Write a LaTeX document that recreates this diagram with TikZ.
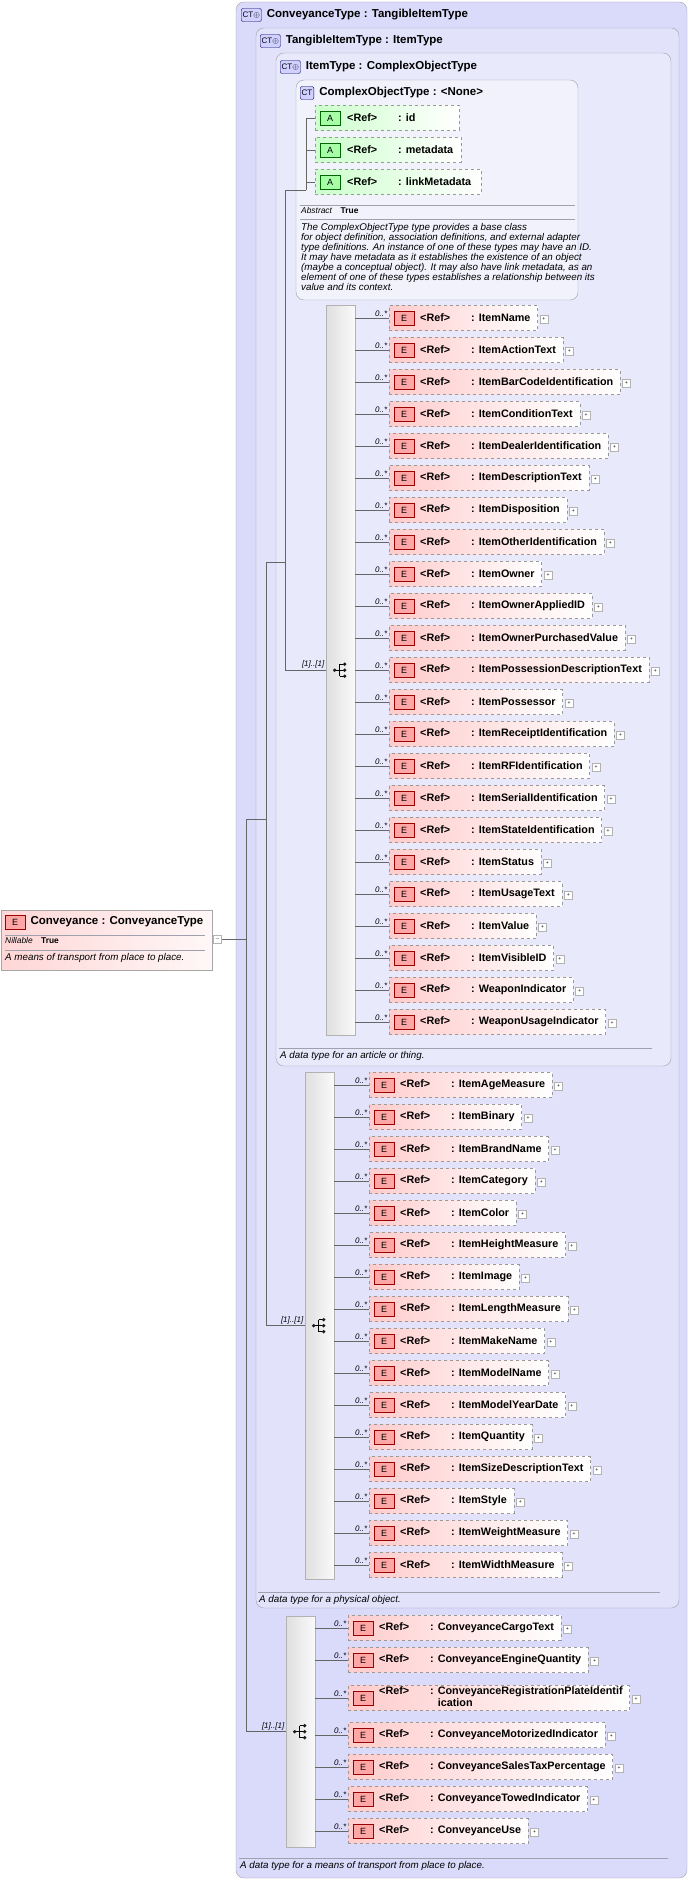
\documentclass[tikz,border=0pt]{standalone}
\usepackage{fontspec}
\setmainfont{Liberation Sans}
\usetikzlibrary{positioning}

\definecolor{boxone}{RGB}{218,218,250}
\definecolor{boxtwo}{RGB}{226,226,251}
\definecolor{boxthree}{RGB}{233,233,252}
\definecolor{boxfour}{RGB}{242,242,252}
\definecolor{frame}{RGB}{160,160,175}

\tikzset{
    ctbox/.style   = {draw = frame, rounded corners = 8pt},
    title/.style   = {anchor = west, font = \fontsize{11.5}{13}\selectfont\bfseries, inner sep = 0pt},
    cticon/.style  = {draw = blue!40!black, fill = blue!18, rounded corners = 2pt, anchor = west,
                      font = \fontsize{8}{9}\selectfont, inner sep = 1.5pt, minimum height = 13pt},
    elem/.style    = {draw = gray!80, dashed, left color = red!20, right color = white, anchor = west,
                      minimum height = 25pt, inner sep = 0pt, font = \fontsize{10.8}{12.5}\selectfont\bfseries},
    attr/.style    = {elem, left color = green!20},
    eicon/.style   = {draw = red!60!black, fill = red!35, anchor = west, minimum width = 20pt,
                      minimum height = 14pt, inner sep = 0pt, font = \fontsize{9}{10}\selectfont},
    aicon/.style   = {eicon, draw = green!40!black, fill = green!35},
    plusbox/.style = {draw = gray!60, fill = white, minimum size = 8pt, inner sep = 0pt, anchor = west},
    bar/.style     = {draw = gray!60, left color = gray!25, right color = gray!4, anchor = north west,
                      minimum width = 29pt, inner sep = 0pt},
    tree/.style    = {draw = gray!80!black, line width = 0.5pt},
    mult/.style    = {pos = 1, anchor = south east, inner sep = 1.5pt, font = \fontsize{8}{9}\selectfont\itshape},
    desc/.style    = {anchor = north west, align = left, inner sep = 0pt,
                      font = \fontsize{9.8}{10}\selectfont\itshape}
}

% element with icon and expander
\newcommand{\elembox}[4]{%
    \node [elem] (#1) at (#2, #3) {\hspace*{31pt}\makebox[51pt][l]{<Ref>}: #4\hspace*{7pt}};
    \node [eicon] at ([xshift = 5pt] #1.west) {E};
    \node [plusbox] at ([xshift = 2pt, yshift = -1pt] #1.east) {\tiny +};
}
% sequence symbol
\newcommand{\seqicon}[1]{%
    \begin{scope}[shift = {(#1.center)}]
        \draw [line width = 0.8pt] (-6, 0) -- (-1, 0) (-1, -6) -- (-1, 6)
            (-1, -6) -- (4, -6) (-1, 0) -- (4, 0) (-1, 6) -- (4, 6);
        \foreach \p in {(-6, 0), (4, -6), (4, 0), (4, 6)}
            \fill [gray!20!black] \p circle (1.8);
    \end{scope}
}

\begin{document}
\begin{tikzpicture}[x = 1pt, y = -1pt]

    \useasboundingbox (0, 0) rectangle (691, 1881);

    % nested type boxes
    \path [ctbox, fill = boxone]   (236, 2)  rectangle (687, 1878);
    \path [ctbox, fill = boxtwo]   (256, 28) rectangle (679, 1608);
    \path [ctbox, fill = boxthree] (276, 53) rectangle (671, 1066);
    \path [ctbox, fill = boxfour]  (296, 80) rectangle (578, 300);

    \node [cticon] (ict1) at (241, 15) {CT$\oplus$};
    \node [title, right = 5pt of ict1] {ConveyanceType : TangibleItemType};
    \node [cticon] (ict2) at (260, 41) {CT$\oplus$};
    \node [title, right = 5pt of ict2] {TangibleItemType : ItemType};
    \node [cticon] (ict3) at (280, 67) {CT$\oplus$};
    \node [title, right = 5pt of ict3] {ItemType : ComplexObjectType};
    \node [cticon] (ict4) at (300, 93) {CT};
    \node [title, right = 5pt of ict4] {ComplexObjectType : <None>};

    % attributes
    \foreach \name/\w [count = \i from 0] in {id/144, metadata/146, linkMetadata/166} {
        \node [attr] (at\i) at (315, 118 + 32 * \i)
            {\makebox[\w pt][l]{\hspace*{32pt}\makebox[51pt][l]{<Ref>}: \name}};
        \node [aicon] at ([xshift = 5pt] at\i.west) {A};
    }
    \coordinate (atj) at (306, 190);
    \draw [tree] (at0.west) -- (at0.west -| atj) -- (atj);
    \draw [tree] (at1.west) -- (at1.west -| atj);
    \draw [tree] (at2.west) -- (at2.west -| atj);

    % complex object notes
    \draw [frame] (300, 205) -- (575, 205);
    \node [desc, font = \fontsize{8.4}{10}\selectfont] at (301, 207) {\textit{Abstract}\quad\textbf{True}};
    \draw [frame] (300, 219) -- (575, 219);
    \node [desc] at (301, 223) {The ComplexObjectType type provides a base class\\
        for object definition, association definitions, and external adapter\\
        type definitions. An instance of one of these types may have an ID.\\
        It may have metadata as it establishes the existence of an object\\
        (maybe a conceptual object). It may also have link metadata, as an\\
        element of one of these types establishes a relationship between its\\
        value and its context.};

    % item sequence
    \node [bar, minimum height = 730pt] (barA) at (326, 305) {};
    \seqicon{barA}
    \foreach \name [count = \i from 0] in {ItemName, ItemActionText, ItemBarCodeIdentification,
            ItemConditionText, ItemDealerIdentification, ItemDescriptionText, ItemDisposition,
            ItemOtherIdentification, ItemOwner, ItemOwnerAppliedID, ItemOwnerPurchasedValue,
            ItemPossessionDescriptionText, ItemPossessor, ItemReceiptIdentification,
            ItemRFIdentification, ItemSerialIdentification, ItemStateIdentification, ItemStatus,
            ItemUsageText, ItemValue, ItemVisibleID, WeaponIndicator, WeaponUsageIndicator} {
        \elembox{a\i}{389}{318 + 32 * \i}{\name}
        \draw [tree] (a\i.west -| barA.east) -- (a\i.west) node [mult] {0..*};
    }
    \draw [frame] (279, 1048) -- (652, 1048);
    \node [desc] at (280, 1051) {A data type for an article or thing.};

    % tangible sequence
    \node [bar, minimum height = 507pt] (barB) at (305, 1072) {};
    \seqicon{barB}
    \foreach \name [count = \i from 0] in {ItemAgeMeasure, ItemBinary, ItemBrandName, ItemCategory,
            ItemColor, ItemHeightMeasure, ItemImage, ItemLengthMeasure, ItemMakeName, ItemModelName,
            ItemModelYearDate, ItemQuantity, ItemSizeDescriptionText, ItemStyle, ItemWeightMeasure,
            ItemWidthMeasure} {
        \elembox{b\i}{369}{1085 + 32 * \i}{\name}
        \draw [tree] (b\i.west -| barB.east) -- (b\i.west) node [mult] {0..*};
    }
    \draw [frame] (258, 1592) -- (660, 1592);
    \node [desc] at (259, 1595) {A data type for a physical object.};

    % conveyance sequence
    \node [bar, minimum height = 231pt] (barC) at (286, 1616) {};
    \seqicon{barC}
    \foreach \name/\y [count = \i from 0] in {ConveyanceCargoText/1628, ConveyanceEngineQuantity/1660,
            {\begin{tabular}[t]{@{}l@{}}ConveyanceRegistrationPlateIdentif\\ication\end{tabular}}/1698,
            ConveyanceMotorizedIndicator/1735, ConveyanceSalesTaxPercentage/1767,
            ConveyanceTowedIndicator/1799, ConveyanceUse/1831} {
        \elembox{c\i}{348}{\y}{\name}
        \draw [tree] (c\i.west -| barC.east) -- (c\i.west) node [mult] {0..*};
    }
    \draw [frame] (239, 1858) -- (668, 1858);
    \node [desc] at (240, 1861) {A data type for a means of transport from place to place.};

    % tree lines
    \coordinate (lv3) at (285, 190);
    \coordinate (lv2) at (266, 562);
    \coordinate (lv1) at (246, 819);
    \draw [tree] (atj) -- (lv3) -- (lv3 |- barA.west) -- (barA.west)
        node [mult] {[1]..[1]};
    \draw [tree] (lv3 |- lv2) -- (lv2) -- (lv2 |- barB.west) -- (barB.west)
        node [mult] {[1]..[1]};
    \draw [tree] (lv2 |- lv1) -- (lv1) -- (lv1 |- barC.west) -- (barC.west)
        node [mult] {[1]..[1]};

    % root element
    \node [draw = gray!70, left color = red!16, right color = red!3, anchor = north west,
        minimum width = 211pt, minimum height = 60pt] (root) at (1, 910) {};
    \node [eicon] (rooticon) at (5, 922) {E};
    \node [title, right = 5pt of rooticon] {Conveyance : ConveyanceType};
    \draw [frame] (5, 935) -- (205, 935);
    \node [desc, font = \fontsize{8.4}{10}\selectfont] at (5, 937) {\textit{Nillable}\quad\textbf{True}};
    \draw [frame] (5, 950) -- (205, 950);
    \node [desc] at (5, 953) {A means of transport from place to place.};
    \node [plusbox] (rootexp) at ([xshift = 1pt, yshift = 1pt] root.east) {\tiny $-$};
    \draw [tree] (rootexp.east) -- (rootexp.east -| lv1);

\end{tikzpicture}
\end{document}
